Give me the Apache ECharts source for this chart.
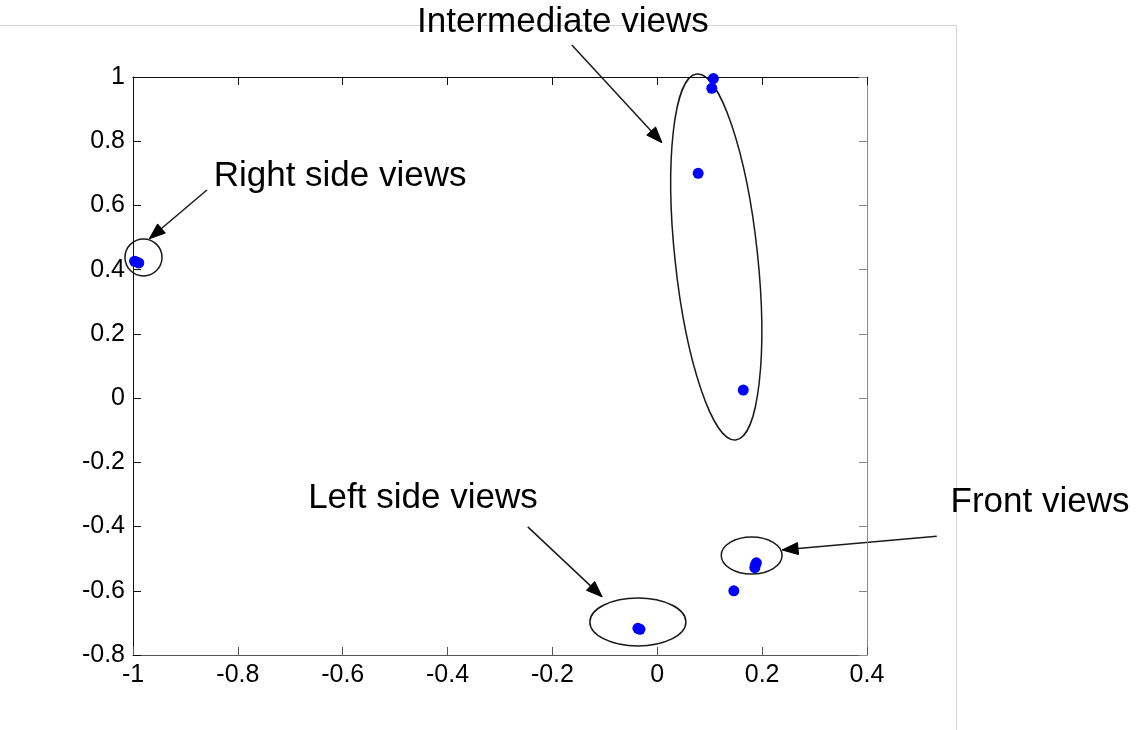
<!DOCTYPE html>
<html><head><meta charset="utf-8">
<script src="https://cdn.jsdelivr.net/npm/echarts@6/dist/echarts.min.js"></script>
<style>html,body{margin:0;padding:0;background:#fff}#c{width:1144px;height:730px}</style>
</head><body><div id="c"></div>
<script>
// ---- data ----
const pointX = [-0.997, -0.993, -0.989, 0.107, 0.104, 0.078, 0.164, -0.037, -0.033, 0.146, 0.189, 0.187, 0.186];
const pointY = [0.426, 0.424, 0.421, 0.995, 0.965, 0.700, 0.025, -0.717, -0.720, -0.600, -0.513, -0.520, -0.528];
const xTickLabels = ['-1', '-0.8', '-0.6', '-0.4', '-0.2', '0', '0.2', '0.4'];
const yTickLabels = ['-0.8', '-0.6', '-0.4', '-0.2', '0', '0.2', '0.4', '0.6', '0.8', '1'];
// annotation ellipses (data units), tilt in degrees
const ellipseCX = [-0.980, 0.1125, -0.037, 0.180];
const ellipseCY = [0.438, 0.4394, -0.697, -0.490];
const ellipseRX = [0.0353, 0.0788, 0.0916, 0.058];
const ellipseRY = [0.0576, 0.573, 0.0747, 0.0576];
const ellipseTilt = [0, 6.1, 0, 0];
// annotation texts and arrows (data units)
const noteLabels = ['Right side views', 'Intermediate views', 'Left side views', 'Front views'];
const noteTextX = [-0.605, -0.180, -0.447, 0.730];
const noteTextY = [0.692, 1.171, -0.311, -0.324];
const arrowFromX = [-0.859, -0.163, -0.247, 0.533];
const arrowFromY = [0.648, 1.100, -0.401, -0.430];
const arrowToX = [-0.969, 0.009, -0.105, 0.238];
const arrowToY = [0.496, 0.795, -0.619, -0.473];

const X_MIN = -1, X_MAX = 0.4, Y_MIN = -0.8, Y_MAX = 1, STEP = 0.2;
const FONT = '"Liberation Sans", Arial, sans-serif';

const chart = echarts.init(document.getElementById('c'), null, {renderer: 'canvas'});

const xLab = v => xTickLabels[Math.round((v - X_MIN) / STEP)] ?? '';
const yLab = v => yTickLabels[Math.round((v - Y_MIN) / STEP)] ?? '';

function axisCommon(min, max, color) {
  return {
    type: 'value', min: min, max: max, interval: STEP,
    splitLine: {show: false},
    axisLine: {show: true, onZero: false, lineStyle: {color: color, width: 1}},
    axisTick: {show: true, inside: true, length: 8, lineStyle: {color: color, width: 1}}
  };
}

chart.setOption({
  animation: false,
  backgroundColor: '#ffffff',
  grid: {left: 133, right: 277, top: 77, bottom: 75, containLabel: false},
  xAxis: [
    Object.assign(axisCommon(X_MIN, X_MAX, '#555'), {
      position: 'bottom',
      axisLabel: {show: true, formatter: xLab, color: '#000', fontSize: 25, fontFamily: FONT, margin: 8}
    }),
    Object.assign(axisCommon(X_MIN, X_MAX, '#111'), {
      position: 'top', axisLabel: {show: false}
    })
  ],
  yAxis: [
    Object.assign(axisCommon(Y_MIN, Y_MAX, '#111'), {
      position: 'left',
      axisLabel: {show: true, formatter: yLab, color: '#000', fontSize: 25, fontFamily: FONT, margin: 8}
    }),
    Object.assign(axisCommon(Y_MIN, Y_MAX, '#888'), {
      position: 'right', axisLabel: {show: false}
    })
  ],
  series: [{
    type: 'scatter',
    xAxisIndex: 0, yAxisIndex: 0,
    clip: false,
    symbol: 'circle',
    symbolSize: 11,
    itemStyle: {color: '#0000ff', opacity: 1},
    emphasis: {disabled: true},
    data: pointX.map((x, i) => [x, pointY[i]])
  }]
});

function px(x, y) { return chart.convertToPixel({gridIndex: 0}, [x, y]); }

const graphics = [];
// light figure frame
graphics.push({type: 'line', shape: {x1: 0, y1: 25.5, x2: 956.5, y2: 25.5}, style: {stroke: '#d4d4d4', lineWidth: 1}, silent: true});
graphics.push({type: 'line', shape: {x1: 956.5, y1: 25.5, x2: 956.5, y2: 730}, style: {stroke: '#d4d4d4', lineWidth: 1}, silent: true});

for (let i = 0; i < ellipseCX.length; i++) {
  const c = px(ellipseCX[i], ellipseCY[i]);
  const ex = px(ellipseCX[i] + ellipseRX[i], ellipseCY[i]);
  const ey = px(ellipseCX[i], ellipseCY[i] + ellipseRY[i]);
  graphics.push({
    type: 'ellipse', x: c[0], y: c[1],
    rotation: ellipseTilt[i] * Math.PI / 180,
    shape: {cx: 0, cy: 0, rx: Math.abs(ex[0] - c[0]), ry: Math.abs(ey[1] - c[1])},
    style: {fill: 'none', stroke: '#1a1a1a', lineWidth: 1.5},
    silent: true
  });
}

for (let i = 0; i < noteLabels.length; i++) {
  const t = px(noteTextX[i], noteTextY[i]);
  graphics.push({
    type: 'text', x: t[0], y: t[1], silent: true,
    style: {text: noteLabels[i], fill: '#000', fontSize: 35, fontFamily: FONT, align: 'center', verticalAlign: 'middle'}
  });
  const a = px(arrowFromX[i], arrowFromY[i]);
  const b = px(arrowToX[i], arrowToY[i]);
  const dx = b[0] - a[0], dy = b[1] - a[1];
  const len = Math.sqrt(dx * dx + dy * dy);
  const ux = dx / len, uy = dy / len;
  const hl = 16, hw = 6;
  const bx = b[0] - ux * hl, by = b[1] - uy * hl;
  graphics.push({
    type: 'line', silent: true,
    shape: {x1: a[0], y1: a[1], x2: bx, y2: by},
    style: {stroke: '#1a1a1a', lineWidth: 1.5}
  });
  graphics.push({
    type: 'polygon', silent: true,
    shape: {points: [[b[0], b[1]], [bx - uy * hw, by + ux * hw], [bx + uy * hw, by - ux * hw]]},
    style: {fill: '#000', stroke: '#000', lineWidth: 1}
  });
}

chart.setOption({graphic: graphics});
</script>
</body></html>
